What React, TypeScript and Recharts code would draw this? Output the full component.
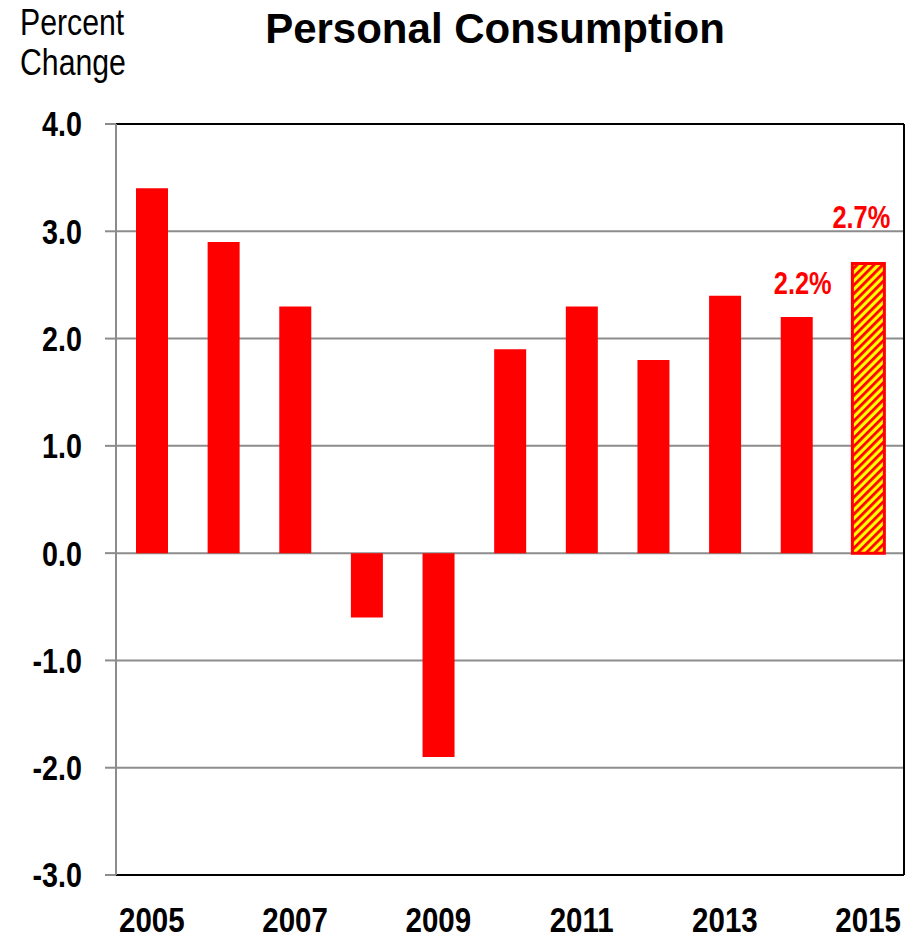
import React from 'react';
import { BarChart, Bar, XAxis, YAxis, CartesianGrid, Cell, LabelList, ReferenceLine } from 'recharts';

const years = ['2005', '2006', '2007', '2008', '2009', '2010', '2011', '2012', '2013', '2014', '2015'];
const values = [3.4, 2.9, 2.3, -0.6, -1.9, 1.9, 2.3, 1.8, 2.4, 2.2, 2.7];
const valueLabels = ['', '', '', '', '', '', '', '', '', '2.2%', '2.7%'];
const forecast = [false, false, false, false, false, false, false, false, false, false, true];
const yTicks = [-3, -2, -1, 0, 1, 2, 3, 4];

const data = years.map((y, i) => ({ year: y, value: values[i], label: valueLabels[i], forecast: forecast[i] }));

const SANS = "'Liberation Sans', Arial, sans-serif";
const SQUEEZE = 0.82;

const labelOffsets: Record<string, number> = { '2014': 6, '2015': -7 };
const labelGaps: Record<string, number> = { '2014': 23, '2015': 35 };

const renderLabel = (props: any) => {
  const { x, y, width, value, index } = props;
  if (!value) return null;
  const yr = years[index];
  const cx = x + width / 2 + (labelOffsets[yr] || 0);
  const cy = y - (labelGaps[yr] || 15);
  return (
    <text
      x={0}
      y={0}
      transform={`translate(${cx},${cy}) scale(${SQUEEZE},1)`}
      textAnchor="middle"
      fill="#ff0000"
      fontFamily={SANS}
      fontWeight="bold"
      fontSize={31}
    >
      {value}
    </text>
  );
};

const YTick = (props: any) => {
  const { x, y, payload } = props;
  return (
    <text
      x={0}
      y={0}
      dy="0.355em"
      transform={`translate(${x},${y}) scale(${SQUEEZE},1)`}
      textAnchor="end"
      fill="#000"
      fontFamily={SANS}
      fontWeight="bold"
      fontSize={35}
    >
      {Number(payload.value).toFixed(1)}
    </text>
  );
};

const XTick = (props: any) => {
  const { x, y, payload } = props;
  return (
    <text
      x={0}
      y={0}
      dy="0.69em"
      transform={`translate(${x},${y}) scale(${SQUEEZE},1)`}
      textAnchor="middle"
      fill="#000"
      fontFamily={SANS}
      fontWeight="bold"
      fontSize={36}
    >
      {payload.value}
    </text>
  );
};

export default function App() {
  return (
    <div style={{ position: 'absolute', left: 0, top: 0, width: 918, height: 937, background: '#fff', overflow: 'hidden' }}>
      <div
        style={{
          position: 'absolute', left: 20, top: 3, fontFamily: SANS, fontSize: 36, lineHeight: '40px', color: '#000',
          transform: 'scaleX(0.84)', transformOrigin: 'left top', whiteSpace: 'nowrap',
        }}
      >
        Percent<br />Change
      </div>
      <div
        style={{
          position: 'absolute', left: 0, width: 990, top: 8, textAlign: 'center', fontFamily: SANS, fontWeight: 'bold',
          fontSize: 42, lineHeight: '42px', color: '#000',
        }}
      >
        Personal Consumption
      </div>
      <BarChart
        width={918}
        height={937}
        data={data}
        margin={{ top: 124, right: 0, bottom: 0, left: 0 }}
        barSize={32}
      >
        <defs>
          <pattern id="hatch" width="6" height="6" patternUnits="userSpaceOnUse" patternTransform="rotate(45)">
            <rect x="0" y="0" width="6" height="6" fill="#ffff00" />
            <rect x="0" y="0" width="2.8" height="6" fill="#ff0000" />
          </pattern>
        </defs>
        <CartesianGrid vertical={false} stroke="#8c8c8c" strokeWidth={2} />
        <XAxis
          dataKey="year"
          height={62}
          interval={1}
          tickLine={false}
          axisLine={{ stroke: '#000', strokeWidth: 2 }}
          tickSize={0}
          tickMargin={32}
          tick={<XTick />}
        />
        <YAxis
          width={116}
          domain={[-3, 4]}
          ticks={yTicks}
          interval={0}
          axisLine={{ stroke: '#8c8c8c', strokeWidth: 2 }}
          tickLine={{ stroke: '#8c8c8c', strokeWidth: 2 }}
          tickSize={11}
          tickMargin={23}
          tick={<YTick />}
        />
        <YAxis
          yAxisId="right"
          orientation="right"
          width={14}
          domain={[-3, 4]}
          tick={false}
          tickLine={false}
          axisLine={{ stroke: '#000', strokeWidth: 2 }}
        />
        <ReferenceLine y={4} stroke="#000" strokeWidth={2} />
        <Bar dataKey="value" isAnimationActive={false}>
          {data.map((d) => (
            <Cell
              key={d.year}
              fill={d.forecast ? 'url(#hatch)' : '#ff0000'}
              stroke={d.forecast ? '#ff0000' : 'none'}
              strokeWidth={d.forecast ? 3 : 0}
            />
          ))}
          <LabelList dataKey="label" content={renderLabel} />
        </Bar>
      </BarChart>
    </div>
  );
}
